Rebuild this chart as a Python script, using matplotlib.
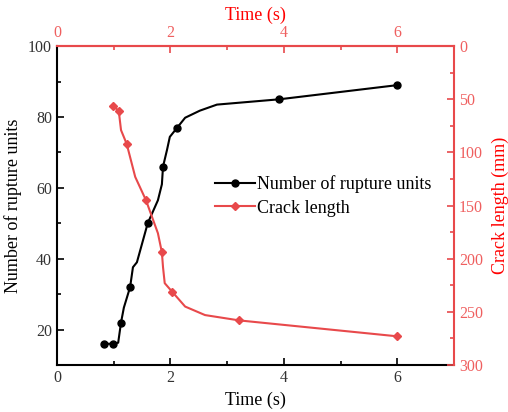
import matplotlib.pyplot as plt
from matplotlib.ticker import MultipleLocator

plt.rcParams['font.family'] = ['Liberation Serif', 'DejaVu Serif']

RED = '#e8494b'
RED_TICK = '#ef5f5f'
GREY = '#333333'

# rupture units vs time (unmarked points keep the curve shape)
t_units = [0.83, 0.99, 1.08, 1.13, 1.18, 1.29, 1.34, 1.41, 1.60, 1.78, 1.85, 1.87,
           1.94, 1.99, 2.12, 2.26, 2.52, 2.82, 3.92, 6.00]
units = [16, 16, 16.3, 22, 26.2, 32, 37.6, 39, 50, 56.5, 61, 66,
         70.7, 74.4, 77, 79.8, 81.8, 83.5, 85, 89]
units_marked = [0, 1, 3, 5, 8, 11, 14, 18, 19]

# crack length vs time
t_crack = [0.99, 1.09, 1.13, 1.23, 1.38, 1.57, 1.78, 1.85, 1.87, 1.90, 2.03, 2.26, 2.61, 3.21, 6.00]
crack = [56, 61, 79, 92, 123, 145, 176, 194, 208, 223, 231, 245, 253, 258, 273]
crack_marked = [0, 1, 3, 5, 7, 10, 13, 14]

fig = plt.figure(figsize=(5.08, 4.12), dpi=100)
ax = fig.add_axes([0.112, 0.114, 0.782, 0.774])

ax.plot(t_units, units, color='black', lw=1.5, marker='o', ms=5,
        markevery=units_marked, label='Number of rupture units')
ax.set_xlim(0, 7)
ax.set_ylim(10, 100)
ax.xaxis.set_major_locator(MultipleLocator(2))
ax.xaxis.set_minor_locator(MultipleLocator(1))
ax.yaxis.set_major_locator(MultipleLocator(20))
ax.yaxis.set_minor_locator(MultipleLocator(10))
ax.tick_params(which='both', direction='in', labelsize=11.5, width=1.2, labelcolor=GREY)
ax.tick_params(which='major', length=5)
ax.tick_params(which='minor', length=3)
ax.set_xlabel('Time (s)', fontsize=13)
ax.set_ylabel('Number of rupture units', fontsize=13)
ax.spines['left'].set_linewidth(1.5)
ax.spines['bottom'].set_linewidth(1.5)
ax.spines['top'].set_visible(False)
ax.spines['right'].set_visible(False)

ax2 = ax.twinx()
ax2.plot(t_crack, crack, color=RED, lw=1.5, marker='D', ms=4.5,
         markevery=crack_marked, label='Crack length')
ax2.set_ylim(300, 0)
ax2.yaxis.set_major_locator(MultipleLocator(50))
ax2.yaxis.set_minor_locator(MultipleLocator(25))
ax2.tick_params(which='both', direction='in', labelsize=11.5, colors=RED, width=1.2,
                labelcolor=RED_TICK)
ax2.tick_params(which='major', length=5)
ax2.tick_params(which='minor', length=3)
ax2.set_ylabel('Crack length (mm)', fontsize=13, color='red', labelpad=6)
for s in ['left', 'bottom']:
    ax2.spines[s].set_visible(False)
ax2.spines['right'].set_color(RED)
ax2.spines['right'].set_linewidth(1.5)
ax2.spines['top'].set_color(RED)
ax2.spines['top'].set_linewidth(1.5)

top = ax.secondary_xaxis('top')
top.xaxis.set_major_locator(MultipleLocator(2))
top.xaxis.set_minor_locator(MultipleLocator(1))
top.tick_params(which='both', direction='in', labelsize=11.5, colors=RED, width=1.2,
                labelcolor=RED_TICK)
top.tick_params(which='major', length=5)
top.tick_params(which='minor', length=3)
top.spines['top'].set_color(RED)
top.spines['top'].set_linewidth(1.5)
top.set_xlabel('Time (s)', fontsize=13, color='red')

h1, l1 = ax.get_legend_handles_labels()
h2, l2 = ax2.get_legend_handles_labels()
ax2.legend(h1 + h2, l1 + l2, loc='center left', bbox_to_anchor=(0.38, 0.53),
           frameon=False, fontsize=13, handlelength=2.2, handletextpad=0.1,
           borderaxespad=0, labelspacing=0.35)

fig.savefig('out.png', dpi=100)
